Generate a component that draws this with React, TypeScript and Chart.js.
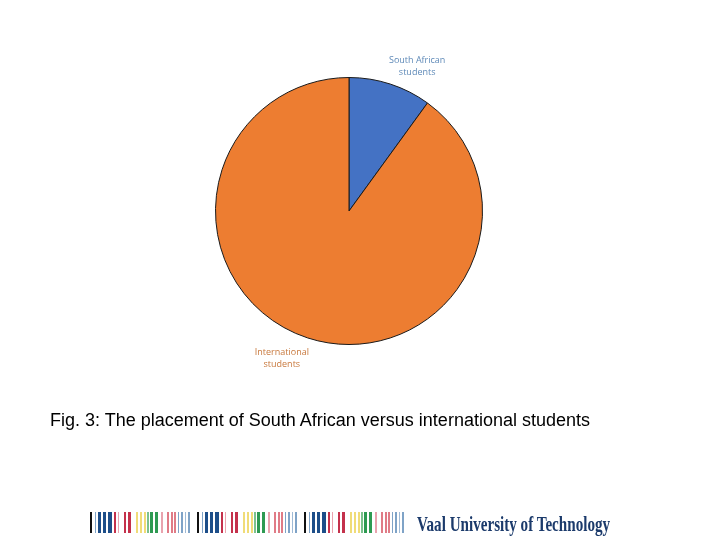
import React, { useEffect, useRef } from "react";
import { Chart, registerables } from "chart.js";

Chart.register(...registerables);

const categories = ["South African students", "International students"];
const labelLines = [["South African", "students"], ["International", "students"]];
const values = [10, 90];
const sliceColors = ["#4472C4", "#ED7D31"];
const labelColors = ["#5F8AB8", "#C8783C"];
const caption = "Fig. 3: The placement of South African versus international students";
const logoText = "Vaal University of Technology";

// decorative barcode stripes for one repeat: [offset, width, colour]
const stripes: [number, number, string][] = [
  [0, 2, "#111111"],
  [5, 1, "#7fa3c7"],
  [8, 3, "#1d4e89"],
  [13, 3, "#1d4e89"],
  [18, 4, "#1d4e89"],
  [24, 2, "#c4314b"],
  [28, 1, "#e9a3ae"],
  [34, 2, "#c4314b"],
  [38, 3, "#c4314b"],
  [46, 2, "#f0dc78"],
  [50, 2, "#f0dc78"],
  [54, 2, "#f0dc78"],
  [57, 2, "#7cc28e"],
  [60, 3, "#2e9a52"],
  [65, 3, "#2e9a52"],
  [71, 2, "#e9a3ae"],
  [77, 2, "#e07b86"],
  [81, 2, "#e07b86"],
  [84, 2, "#e07b86"],
  [88, 1, "#7fa3c7"],
  [91, 2, "#7fa3c7"],
  [95, 1, "#9fbad6"],
  [98, 2, "#7fa3c7"],
];
const stripeRepeats = [0, 1, 2];

const labelPlugin = {
  id: "outsideLabels",
  afterDatasetsDraw(chart: any) {
    const meta = chart.getDatasetMeta(0);
    const ctx = chart.ctx;
    ctx.save();
    ctx.font = "9px 'Open Sans', sans-serif";
    ctx.textAlign = "center";
    ctx.textBaseline = "middle";
    meta.data.forEach((arc: any, i: number) => {
      const { x, y, startAngle, endAngle, outerRadius } = arc.getProps(
        ["x", "y", "startAngle", "endAngle", "outerRadius"],
        true
      );
      const mid = (startAngle + endAngle) / 2 + 0.12;
      const r = outerRadius * 1.205;
      const lx = x + Math.cos(mid) * r + 0.5;
      const ly = y + Math.sin(mid) * r + 1.5;
      ctx.fillStyle = labelColors[i];
      const lines = labelLines[i];
      lines.forEach((ln, k) => {
        ctx.fillText(ln, lx, ly + (k - (lines.length - 1) / 2) * 12);
      });
    });
    ctx.restore();
  },
};

export default function App() {
  const ref = useRef<HTMLCanvasElement>(null);
  useEffect(() => {
    if (!ref.current) return;
    const chart = new Chart(ref.current, {
      type: "pie",
      data: {
        labels: categories,
        datasets: [
          {
            data: values,
            backgroundColor: sliceColors,
            borderColor: "#1a1a1a",
            borderWidth: 1,
          },
        ],
      },
      options: {
        responsive: false,
        animation: false,
        layout: { padding: { left: 215, top: 77, right: 237, bottom: 195 } },
        plugins: {
          legend: { display: false },
          tooltip: { enabled: false },
          title: { display: false },
        },
      },
      plugins: [labelPlugin],
    });
    return () => chart.destroy();
  }, []);

  return (
    <div
      style={{
        position: "absolute",
        left: 0,
        top: 0,
        width: 720,
        height: 540,
        background: "#ffffff",
        overflow: "hidden",
      }}
    >
      <canvas ref={ref} width={720} height={540} style={{ position: "absolute", left: 0, top: 0 }} />
      <div
        style={{
          position: "absolute",
          left: 50,
          top: 410,
          font: "18px Arial, 'Liberation Sans', sans-serif",
          lineHeight: "20px",
          color: "#000",
          whiteSpace: "nowrap",
        }}
      >
        {caption}
      </div>
      <div style={{ position: "absolute", left: 90, top: 512, width: 320, height: 21 }}>
        {stripeRepeats.map((r) =>
          stripes.map(([o, w, c], j) => (
            <div
              key={r + "-" + j}
              style={{
                position: "absolute",
                left: r * 107 + o,
                top: 0,
                width: w,
                height: 21,
                background: c,
              }}
            />
          ))
        )}
      </div>
      <div
        style={{
          position: "absolute",
          left: 417,
          top: 514,
          font: "bold 21px 'Liberation Serif', 'Times New Roman', serif",
          lineHeight: "21px",
          color: "#1b3a6b",
          whiteSpace: "nowrap",
          transform: "scaleX(0.72)",
          transformOrigin: "left top",
        }}
      >
        {logoText}
      </div>
    </div>
  );
}
